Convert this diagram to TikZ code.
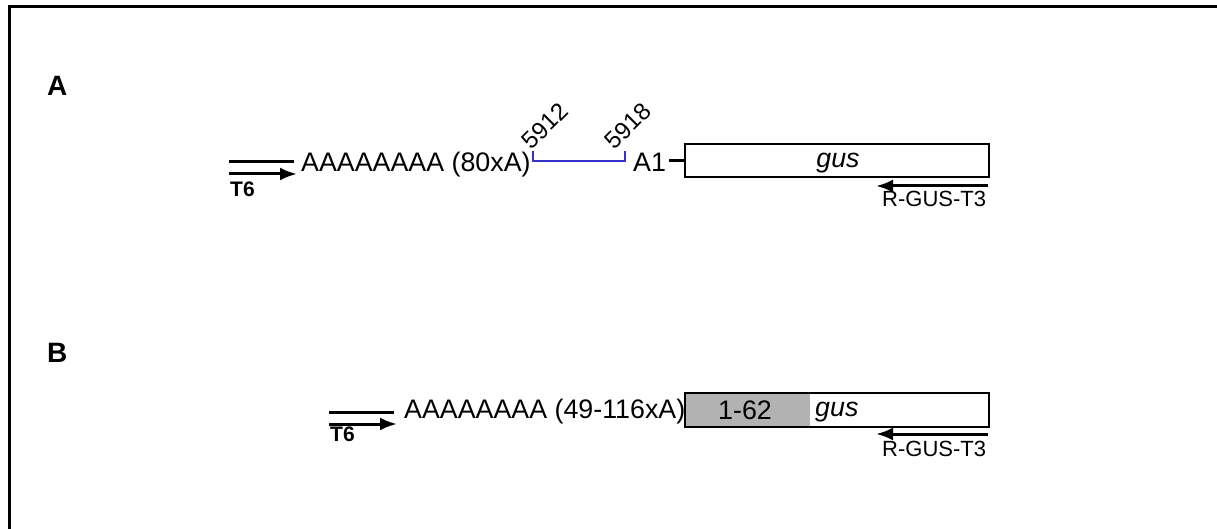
\documentclass[tikz,border=0pt]{standalone}
\usepackage{fontspec}
\setmainfont{Liberation Sans}
\usetikzlibrary{arrows.meta}
\begin{document}
\begin{tikzpicture}[x=1pt,y=-1pt,
  big/.style={inner sep=0pt,font=\fontsize{26.8}{30}\selectfont},
  bigit/.style={inner sep=0pt,font=\fontsize{26.8}{30}\selectfont\itshape},
  num/.style={inner sep=0pt,font=\fontsize{24}{28}\selectfont,rotate=45,anchor=south west},
  small/.style={inner sep=0pt,font=\fontsize{22}{25}\selectfont},
  primerlbl/.style={inner sep=0pt,font=\fontsize{21}{24}\selectfont\bfseries},
  panel/.style={inner sep=0pt,font=\fontsize{28}{32}\selectfont\bfseries},
  primer/.style={line width=3pt,-{Latex[length=17pt,width=13pt]}},
  plain/.style={line width=3pt},
  genebox/.style={draw,line width=2.4pt},
  bracket/.style={draw=bluebr,line width=2.6pt}
]
\definecolor{bluebr}{RGB}{51,51,204}
\definecolor{grayfill}{RGB}{178,178,178}
\useasboundingbox (0,0) rectangle (1217,529);
% frame
\draw[line width=3pt] (9,529) -- (9,7) -- (1217,7);

% ---------- Panel A ----------
\node[panel,anchor=base west] (pA) at (47,96) {A};
\coordinate (t6a1) at (229,162);
\coordinate (t6a2) at (294,162);
\coordinate (t6a3) at (229,174);
\coordinate (t6a4) at (297,174);
\draw[plain] (t6a1) -- (t6a2);
\draw[primer] (t6a3) -- (t6a4);
\node[primerlbl,anchor=base west] (t6A) at (230,197) {T6};
\node[big,anchor=base west] (polyA) at (301,172) {AAAAAAAA (80xA)};
\coordinate (brA1) at (533,151);
\coordinate (brA2) at (533,161);
\coordinate (brA3) at (625,161);
\coordinate (brA4) at (625,151);
\draw[bracket] (brA1) -- (brA2) -- (brA3) -- (brA4);
\node[num] (n5912) at (532,151) {5912};
\node[num] (n5918) at (615,151) {5918};
\node[big,anchor=base west] (a1) at (633,172) {A1};
\node[genebox,minimum width=304pt,minimum height=33pt,inner sep=0pt,anchor=north west] (boxA) at (684,143) {};
\node[bigit,anchor=base] (gusA) at (838,168) {gus};
\draw[line width=2.4pt] (a1.east |- boxA.west) ++(3,0) coordinate (a1e) -- (boxA.west);
\coordinate (rA1) at (988,186);
\coordinate (rA2) at (876,186);
\draw[primer] (rA1) -- (rA2);
\node[small,anchor=base west] (rgusA) at (882,207) {R-GUS-T3};

% ---------- Panel B ----------
\node[panel,anchor=base west] (pB) at (47,362) {B};
\coordinate (t6b1) at (329,412);
\coordinate (t6b2) at (394,412);
\coordinate (t6b3) at (329,424);
\coordinate (t6b4) at (397,424);
\draw[plain] (t6b1) -- (t6b2);
\draw[primer] (t6b3) -- (t6b4);
\node[primerlbl,anchor=base west] (t6B) at (330,441) {T6};
\node[big,anchor=base west] (polyB) at (404,418) {AAAAAAAA (49-116xA)};
\fill[grayfill] (684,392) rectangle (810,426);
\node[genebox,minimum width=304pt,minimum height=34pt,inner sep=0pt,anchor=north west] (boxB) at (684,392) {};
\node[big,anchor=base] (r162) at (745,419) {1-62};
\node[bigit,anchor=base west] (gusB) at (815,416) {gus};
\coordinate (rB1) at (988,434);
\coordinate (rB2) at (876,434);
\draw[primer] (rB1) -- (rB2);
\node[small,anchor=base west] (rgusB) at (882,456) {R-GUS-T3};
\end{tikzpicture}
\end{document}
